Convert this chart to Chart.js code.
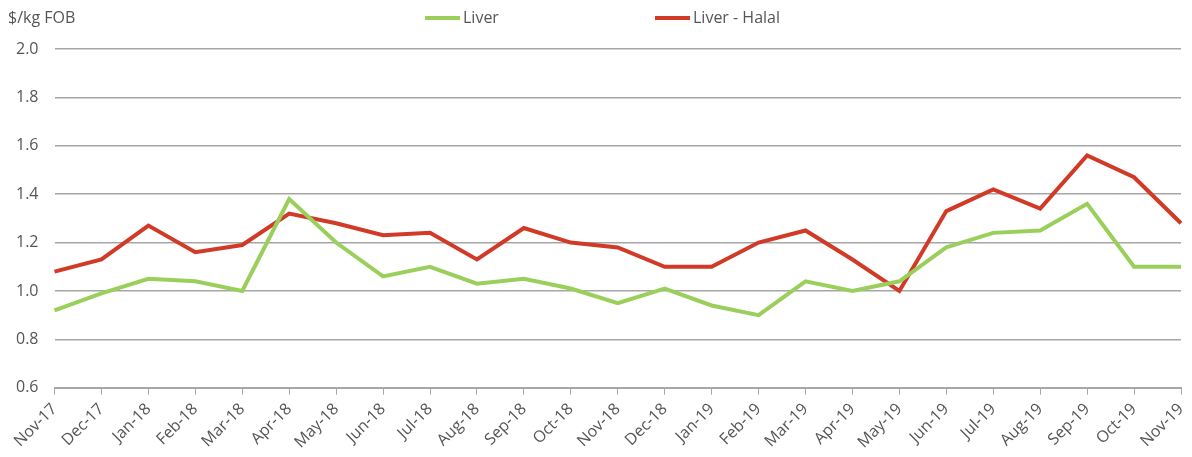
<!DOCTYPE html>
<html>
<head>
<meta charset="utf-8">
<script src="https://cdn.jsdelivr.net/npm/chart.js@4"></script>
<style>
  body { margin: 0; background: #fff; }
  #wrap { width: 1192px; height: 457px; }
</style>
</head>
<body>
<div id="wrap"><canvas id="myChart" width="1192" height="457"></canvas></div>
<script>
// months on the x axis
var months = ["Nov-17", "Dec-17", "Jan-18", "Feb-18", "Mar-18", "Apr-18", "May-18", "Jun-18", "Jul-18",
  "Aug-18", "Sep-18", "Oct-18", "Nov-18", "Dec-18", "Jan-19", "Feb-19", "Mar-19", "Apr-19", "May-19",
  "Jun-19", "Jul-19", "Aug-19", "Sep-19", "Oct-19", "Nov-19"];

// $/kg FOB
var liver = [0.92, 0.99, 1.05, 1.04, 1.00, 1.38, 1.20, 1.06, 1.10, 1.03, 1.05, 1.01, 0.95,
  1.01, 0.94, 0.90, 1.04, 1.00, 1.04, 1.18, 1.24, 1.25, 1.36, 1.10, 1.10];
var liverHalal = [1.08, 1.13, 1.27, 1.16, 1.19, 1.32, 1.28, 1.23, 1.24, 1.13, 1.26, 1.20, 1.18,
  1.10, 1.10, 1.20, 1.25, 1.13, 1.00, 1.33, 1.42, 1.34, 1.56, 1.47, 1.28];

var seriesNames = ["Liver", "Liver - Halal"];
var seriesColors = ["#9BCF5B", "#D13A27"];
var unitLabel = "$/kg FOB";

var fontName = "'Open Sans', sans-serif";

// legend + unit label drawn on top, spaced like the original
var topText = {
  id: 'topText',
  afterDraw: function(chart) {
    var ctx = chart.ctx;
    ctx.save();
    ctx.font = "16px " + fontName;
    ctx.fillStyle = "#555555";
    ctx.textBaseline = "middle";
    ctx.textAlign = "left";
    ctx.fillText(unitLabel, 8, 18);
    var xs = [425, 655];
    chart.data.datasets.forEach(function(ds, i) {
      ctx.strokeStyle = ds.borderColor;
      ctx.lineWidth = 4;
      ctx.beginPath();
      ctx.moveTo(xs[i], 18);
      ctx.lineTo(xs[i] + 35, 18);
      ctx.stroke();
      ctx.fillText(ds.label, xs[i] + 38, 18);
    });
    ctx.restore();
  }
};

var ctx = document.getElementById('myChart').getContext('2d');
var myChart = new Chart(ctx, {
  type: 'line',
  data: {
    labels: months,
    datasets: [{
      label: seriesNames[0],
      data: liver,
      borderColor: seriesColors[0],
      backgroundColor: seriesColors[0],
      borderWidth: 4,
      pointRadius: 0,
      tension: 0
    }, {
      label: seriesNames[1],
      data: liverHalal,
      borderColor: seriesColors[1],
      backgroundColor: seriesColors[1],
      borderWidth: 4,
      pointRadius: 0,
      tension: 0
    }]
  },
  options: {
    responsive: false,
    animation: false,
    layout: { padding: { top: 49, right: 0, left: 0, bottom: 0 } },
    plugins: {
      legend: { display: false },
      tooltip: { enabled: false }
    },
    scales: {
      x: {
        offset: false,
        afterFit: function(scale) { scale.paddingRight = 11; },
        grid: { display: true, drawOnChartArea: false, color: "#a6a6a6", tickLength: 7 },
        border: { color: "#a6a6a6", width: 2 },
        ticks: {
          minRotation: 45, maxRotation: 45, autoSkip: false,
          color: "#555555", font: { family: fontName, size: 16 }, padding: 5
        }
      },
      y: {
        min: 0.6, max: 2.0,
        grid: { color: "#a6a6a6", lineWidth: 1.5, drawTicks: false },
        border: { display: false },
        ticks: {
          stepSize: 0.2, padding: 16,
          color: "#555555", font: { family: fontName, size: 16 },
          callback: function(v) { return v.toFixed(1); }
        }
      }
    }
  },
  plugins: [topText]
});
</script>
</body>
</html>
